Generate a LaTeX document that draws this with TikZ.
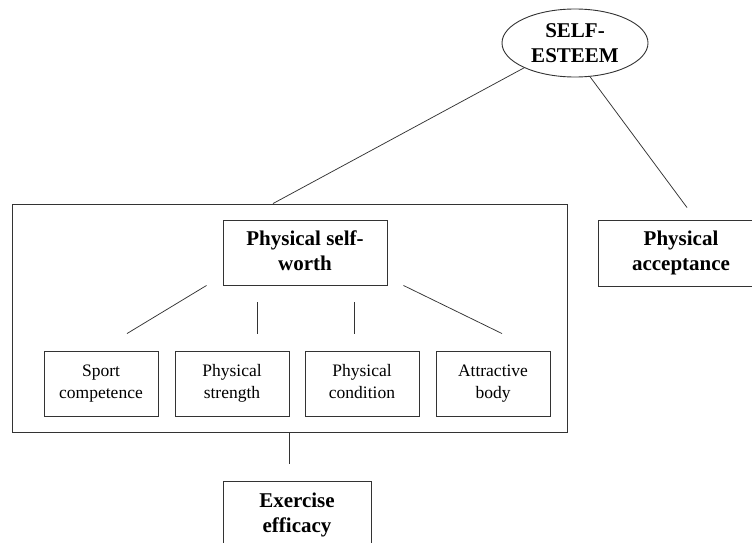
\documentclass[tikz,border=0pt]{standalone}
\usepackage{fontspec}
\setmainfont{Liberation Serif}
\usetikzlibrary{shapes.geometric}

\begin{document}
\begin{tikzpicture}[x=1pt,y=-1pt,
  big/.style={draw=black!80, line width=0.9pt, font=\bfseries\fontsize{21}{25}\selectfont, align=center},
  small/.style={draw=black!80, line width=0.9pt, minimum width=114pt, minimum height=65pt,
    font=\fontsize{17.5}{22}\selectfont, align=center, inner sep=0pt},
  link/.style={draw=black!80, line width=0.75pt}]
  \useasboundingbox (0,0) rectangle (752,543);
  % top of the tree
  \node[big, ellipse, minimum width=146pt, minimum height=68pt, inner sep=0pt]
    (esteem) at (575,43) {SELF-\\ESTEEM};
  \node[big, minimum width=166pt, minimum height=66pt]
    (accept) at (681,253) {Physical\\acceptance\vphantom{y}};
  % physical domain
  \node[draw=black!80, line width=0.9pt, minimum width=555pt, minimum height=228pt] (frame) at (289.5,318) {};
  \node[big, minimum width=164pt, minimum height=65pt]
    (worth) at (305,252.5) {Physical self-\\worth\vphantom{y}};
  \node[small] (sport) at (101,383.5) {Sport\\competence\vphantom{g}};
  \node[small] (strength) at (232,383.5) {Physical\\strength};
  \node[small] (condition) at (362,383.5) {Physical\\condition\vphantom{g}};
  \node[small] (body) at (493,383.5) {Attractive\\body};
  \node[big, minimum width=148pt, minimum height=68pt]
    (efficacy) at (297,515) {Exercise\\efficacy};
  % links
  \draw[link](esteem.206)--([xshift=-16.5pt]frame.north);
  \draw[link](esteem.-66)--([xshift=6pt,yshift=12pt]accept.north);
  \draw[link]([xshift=-16pt]worth.south west)--([xshift=26pt,yshift=17pt]sport.north);
  \draw[link]([xshift=-48pt,yshift=-17pt]worth.south)--([xshift=25pt,yshift=17pt]strength.north);
  \draw[link]([xshift=49pt,yshift=-17pt]worth.south)--([xshift=-8pt,yshift=17pt]condition.north);
  \draw[link]([xshift=16pt]worth.south east)--([xshift=9pt,yshift=17pt]body.north);
  \draw[link](frame.south)--([xshift=-7.5pt,yshift=17pt]efficacy.north);
\end{tikzpicture}
\end{document}
